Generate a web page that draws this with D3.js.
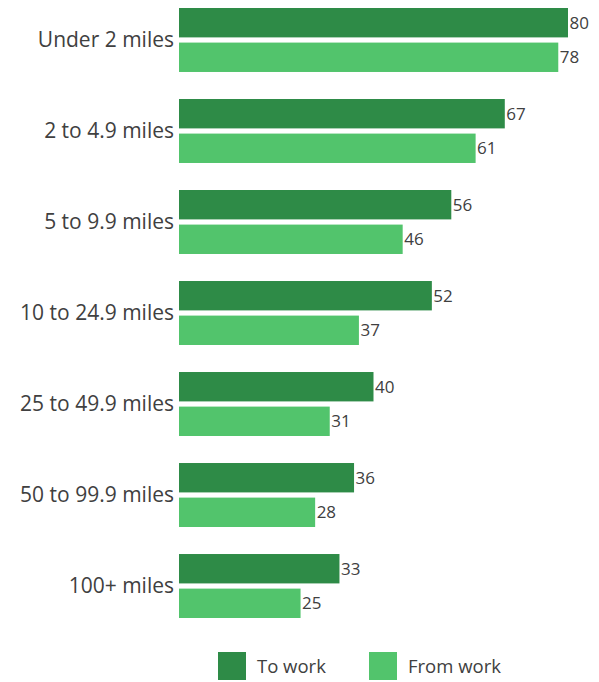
<!DOCTYPE html>
<html><head><meta charset="utf-8">
<script src="https://cdn.jsdelivr.net/npm/d3@7"></script>
<style>body{margin:0;background:#fff}text{font-family:"Open Sans",sans-serif}</style>
</head><body><svg id="c" width="599" height="682"></svg>
<script>
const categories = ["Under 2 miles","2 to 4.9 miles","5 to 9.9 miles","10 to 24.9 miles","25 to 49.9 miles","50 to 99.9 miles","100+ miles"];
const series = ["To work","From work"];
const toWork = [80,67,56,52,40,36,33];
const fromWork = [78,61,46,37,31,28,25];
const colors = ["#2e8b47","#52c46c"];

const svg = d3.select("#c");
const x = d3.scaleLinear().domain([0,80]).range([179,568]);
const y = d3.scaleBand().domain(categories).range([8,618]).paddingInner(0.297).paddingOuter(0);
const ys = d3.scaleBand().domain(series).range([0,y.bandwidth()]).paddingInner(0.15);
const color = d3.scaleOrdinal().domain(series).range(colors);

const rows = categories.map((c,i)=>({cat:c, vals:[{s:series[0],v:toWork[i]},{s:series[1],v:fromWork[i]}]}));
const g = svg.selectAll("g.grp").data(rows).join("g").attr("class","grp")
  .attr("transform",d=>`translate(0,${y(d.cat)})`);
g.selectAll("rect").data(d=>d.vals).join("rect")
  .attr("x",x(0)).attr("y",d=>ys(d.s)).attr("width",d=>x(d.v)-x(0)).attr("height",ys.bandwidth())
  .attr("fill",d=>color(d.s));
g.selectAll("text.val").data(d=>d.vals).join("text").attr("class","val")
  .attr("x",d=>x(d.v)+1.5).attr("y",d=>ys(d.s)+ys.bandwidth()/2).attr("dy","0.36em")
  .attr("font-size",17).attr("fill","#404040").text(d=>d.v);

const yAxis = d3.axisLeft(y).tickSize(0).tickPadding(5);
const ax = svg.append("g").attr("transform",`translate(${x(0)},0)`).call(yAxis);
ax.select(".domain").remove();
ax.selectAll("text").attr("font-size",21).attr("fill","#404040").style("font-family","Open Sans, sans-serif");

const leg = svg.append("g").selectAll("g").data(series).join("g")
  .attr("transform",(d,i)=>`translate(${218+i*151},652)`);
leg.append("rect").attr("width",28).attr("height",28).attr("fill",d=>color(d));
leg.append("text").attr("x",39).attr("y",14).attr("dy","0.36em").attr("font-size",18.5).attr("fill","#404040").text(d=>d);
</script></body></html>
